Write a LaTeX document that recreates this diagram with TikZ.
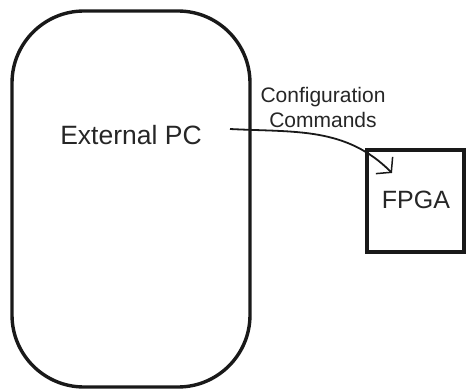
\documentclass[tikz,border=0pt]{standalone}
\usepackage{fontspec}
\setmainfont{Liberation Sans}
\usetikzlibrary{arrows.meta}
\begin{document}
\begin{tikzpicture}[x=1pt,y=-1pt,
  unit/.style={draw=black!90, line width=3.4pt, inner sep=0pt},
  lbl/.style={inner sep=0pt, text=black!85},
  link/.style={draw=black!90, line width=1.8pt,
    -{Straight Barb[angle=90:15pt 1, length=10pt, line width=1.5pt, line join=miter]}}]
  \useasboundingbox (0,0) rectangle (466,390);
  % host computer
  \node[unit, rounded corners=72pt, minimum width=238pt, minimum height=376pt] (pc) at (131,199) {};
  \node[lbl, font=\fontsize{26.5}{30}\selectfont] (pcname) at (131,135) {External PC};
  % target device
  \node[unit, minimum width=97pt, minimum height=102pt] (fpga) at (415.5,201) {};
  \node[lbl, font=\fontsize{25}{30}\selectfont] (fpganame) at (416,200) {FPGA};
  % command link
  \coordinate (src) at (230,129);
  \coordinate (dst) at (392,173);
  \draw[link] (src) to[out=-3, in=135] (dst);
  \node[lbl, align=center, font=\fontsize{21}{25}\selectfont] (cmd) at (323,107) {Configuration\\Commands};
\end{tikzpicture}
\end{document}
